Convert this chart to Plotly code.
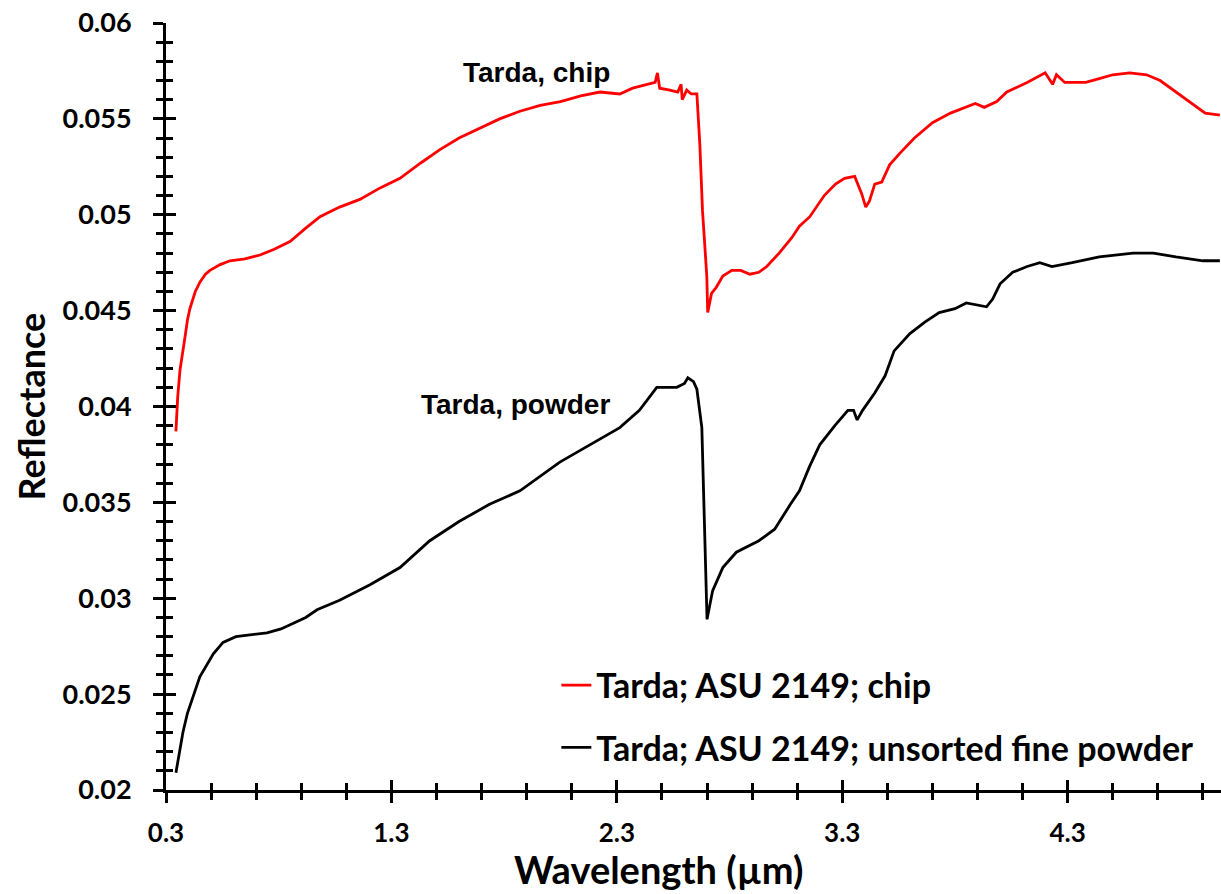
import plotly.graph_objects as go

# ---- data ----
wl_chip = [0.344, 0.352, 0.362, 0.372, 0.384, 0.395, 0.406, 0.43, 0.451, 0.475, 0.495, 0.54, 0.584,
           0.65, 0.717, 0.78, 0.85, 0.92, 0.983, 1.07, 1.16, 1.25, 1.338, 1.43, 1.515, 1.60, 1.69,
           1.78, 1.87, 1.96, 2.05, 2.14, 2.225, 2.313, 2.37, 2.43, 2.47, 2.48, 2.49, 2.535, 2.57,
           2.585, 2.59, 2.61, 2.63, 2.655, 2.668, 2.68, 2.699, 2.703, 2.708, 2.72, 2.74, 2.77,
           2.81, 2.85, 2.89, 2.93, 2.965, 3.02, 3.076, 3.11, 3.156, 3.22, 3.27, 3.31, 3.355, 3.386,
           3.404, 3.42, 3.444, 3.475, 3.51, 3.555, 3.62, 3.70, 3.78, 3.85, 3.89, 3.93, 3.985,
           4.03, 4.12, 4.20, 4.233, 4.25, 4.287, 4.33, 4.38, 4.44, 4.50, 4.575, 4.65, 4.71, 4.77,
           4.84, 4.91, 4.975]
refl_chip = [0.0387, 0.0405, 0.0419, 0.0426, 0.0436, 0.0445, 0.0451, 0.0460, 0.0465, 0.0469, 0.0471, 0.0474, 0.0476,
             0.0477, 0.0479, 0.0482, 0.0486, 0.0493, 0.0499, 0.0504, 0.0508, 0.0514, 0.0519, 0.0527, 0.0534, 0.0540, 0.0545,
             0.0550, 0.0554, 0.0557, 0.0559, 0.0562, 0.0564, 0.0563, 0.0566, 0.0568, 0.0569, 0.0574, 0.0566, 0.0565, 0.0564,
             0.0568, 0.0560, 0.0565, 0.0563, 0.0563, 0.0537, 0.0502, 0.0468, 0.0449, 0.0452, 0.0459, 0.0462, 0.0468,
             0.0471, 0.0471, 0.0469, 0.0470, 0.0473, 0.0480, 0.0488, 0.0494, 0.0499, 0.0510, 0.0516, 0.0519, 0.0520, 0.0511,
             0.0504, 0.0507, 0.0516, 0.0517, 0.0526, 0.0532, 0.0540, 0.0548, 0.0553, 0.0556, 0.0558, 0.0556, 0.0559,
             0.0564, 0.0569, 0.0574, 0.0568, 0.0573, 0.0569, 0.0569, 0.0569, 0.0571, 0.0573, 0.0574, 0.0573, 0.0570, 0.0565,
             0.0559, 0.0553, 0.0552]

wl_powder = [0.344, 0.36, 0.375, 0.395, 0.415, 0.45, 0.51, 0.553, 0.61, 0.672, 0.748, 0.81, 0.863, 0.92, 0.97,
             1.07, 1.205, 1.338, 1.47, 1.60, 1.735, 1.87, 2.047, 2.18, 2.313, 2.40, 2.477, 2.52, 2.566,
             2.60, 2.615, 2.64, 2.655, 2.677, 2.69, 2.70, 2.705, 2.725, 2.77, 2.83, 2.93, 3.0, 3.07,
             3.11, 3.156, 3.20, 3.267, 3.325, 3.35, 3.366, 3.39, 3.444, 3.49, 3.53, 3.60, 3.666, 3.73,
             3.80, 3.85, 3.90, 3.94, 3.967, 4.0, 4.056, 4.12, 4.176, 4.23, 4.32, 4.44, 4.59, 4.68,
             4.78, 4.90, 4.975]
refl_powder = [0.0209, 0.0220, 0.0230, 0.0240, 0.0247, 0.0259, 0.0271, 0.0277, 0.0280, 0.0281, 0.0282, 0.0284, 0.0287, 0.0290, 0.0294,
               0.0299, 0.0307, 0.0316, 0.0330, 0.0340, 0.0349, 0.0356, 0.0371, 0.0380, 0.0389, 0.0398, 0.0410, 0.0410, 0.0410,
               0.0412, 0.0415, 0.0413, 0.0409, 0.0389, 0.0337, 0.0289, 0.0292, 0.0304, 0.0316, 0.0324, 0.0330, 0.0336, 0.0349,
               0.0356, 0.0369, 0.0380, 0.0390, 0.0398, 0.0398, 0.0393, 0.0398, 0.0407, 0.0416, 0.0429, 0.0438, 0.0444, 0.0449,
               0.0451, 0.0454, 0.0453, 0.0452, 0.0456, 0.0464, 0.0470, 0.0473, 0.0475, 0.0473, 0.0475, 0.0478, 0.0480, 0.0480,
               0.0478, 0.0476, 0.0476]

series_names = ["Tarda; ASU 2149; chip", "Tarda; ASU 2149; unsorted fine powder"]
x_range = [0.3, 4.98]
y_range = [0.02, 0.06]
x_tickvals = [0.3, 1.3, 2.3, 3.3, 4.3]
x_ticktext = ["0.3", "1.3", "2.3", "3.3", "4.3"]
y_tickvals = [0.02, 0.025, 0.03, 0.035, 0.04, 0.045, 0.05, 0.055, 0.06]
y_ticktext = ["0.02", "0.025", "0.03", "0.035", "0.04", "0.045", "0.05", "0.055", "0.06"]

LATO = "Lato"
ARIAL = "Liberation Sans"

fig = go.Figure()
fig.add_trace(go.Scatter(x=wl_chip, y=refl_chip, mode="lines", name=series_names[0],
                         line=dict(color="#ff0000", width=2.8), legendgroup="a"))
fig.add_trace(go.Scatter(x=wl_powder, y=refl_powder, mode="lines", name=series_names[1],
                         line=dict(color="#000000", width=2.8), legendgroup="b"))
# invisible helper trace so the overlay (inside-tick) axes are drawn
fig.add_trace(go.Scatter(x=[None], y=[None], xaxis="x2", yaxis="y2", showlegend=False, hoverinfo="skip"))

common_tick = dict(tickcolor="black", tickwidth=3)
fig.update_layout(
    width=1221, height=894,
    margin=dict(l=166, r=0, t=23, b=104),
    paper_bgcolor="white", plot_bgcolor="white",
    font=dict(family=LATO, color="black"),
    xaxis=dict(range=x_range, tickmode="array", tickvals=x_tickvals, ticktext=x_ticktext,
               ticks="outside", ticklen=10, **common_tick,
               showline=True, linecolor="black", linewidth=3, showgrid=False, zeroline=False,
               tickfont=dict(family=LATO, size=26, color="black", weight="bold"),
               ticklabelstandoff=8,
               minor=dict(ticks="outside", ticklen=7, tickcolor="black", tickwidth=3, tick0=0.3, dtick=0.2,
                          showgrid=False)),
    yaxis=dict(range=y_range, tickmode="array", tickvals=y_tickvals, ticktext=y_ticktext,
               ticks="outside", ticklen=10, **common_tick,
               showline=True, linecolor="black", linewidth=3, showgrid=False, zeroline=False,
               tickfont=dict(family=LATO, size=27, color="black", weight="bold"),
               ticklabelstandoff=16,
               minor=dict(ticks="outside", ticklen=7, tickcolor="black", tickwidth=3, tick0=0.02, dtick=0.001,
                          showgrid=False)),
    xaxis2=dict(overlaying="x", range=x_range, tickmode="array", tickvals=x_tickvals,
                ticks="inside", ticklen=10, **common_tick, showticklabels=False,
                showline=False, showgrid=False, zeroline=False,
                minor=dict(ticks="inside", ticklen=7, tickcolor="black", tickwidth=3, tick0=0.3, dtick=0.2,
                           showgrid=False)),
    yaxis2=dict(overlaying="y", range=y_range, tickmode="array", tickvals=y_tickvals,
                ticks="inside", ticklen=10, **common_tick, showticklabels=False,
                showline=False, showgrid=False, zeroline=False,
                minor=dict(ticks="inside", ticklen=7, tickcolor="black", tickwidth=3, tick0=0.02, dtick=0.001,
                           showgrid=False)),
    legend=dict(x=0.37, y=0.174, xanchor="left", yanchor="top", bgcolor="rgba(0,0,0,0)",
                traceorder="grouped", tracegroupgap=15,
                font=dict(family=LATO, size=34, color="black", weight="bold")),
    showlegend=True,
    annotations=[
        dict(text="Tarda, chip", x=2.278, y=0.0574, xref="x", yref="y", xanchor="right", yanchor="middle",
             showarrow=False, font=dict(family=ARIAL, size=28, color="black", weight="bold")),
        dict(text="Tarda, powder", x=2.278, y=0.0401, xref="x", yref="y", xanchor="right", yanchor="middle",
             showarrow=False, font=dict(family=ARIAL, size=28, color="black", weight="bold")),
        dict(text="Wavelength (µm)", x=(658 - 166) / 1055, y=(790 - 869) / 767, xref="paper", yref="paper",
             xanchor="center", yanchor="middle", showarrow=False,
             font=dict(family=LATO, size=38, color="black", weight="bold")),
        dict(text="Reflectance", x=-0.128, y=0.5, xref="paper", yref="paper", textangle=-90,
             xanchor="center", yanchor="middle", showarrow=False,
             font=dict(family=LATO, size=36, color="black", weight="bold")),
    ],
)

fig.write_html("out.html")
